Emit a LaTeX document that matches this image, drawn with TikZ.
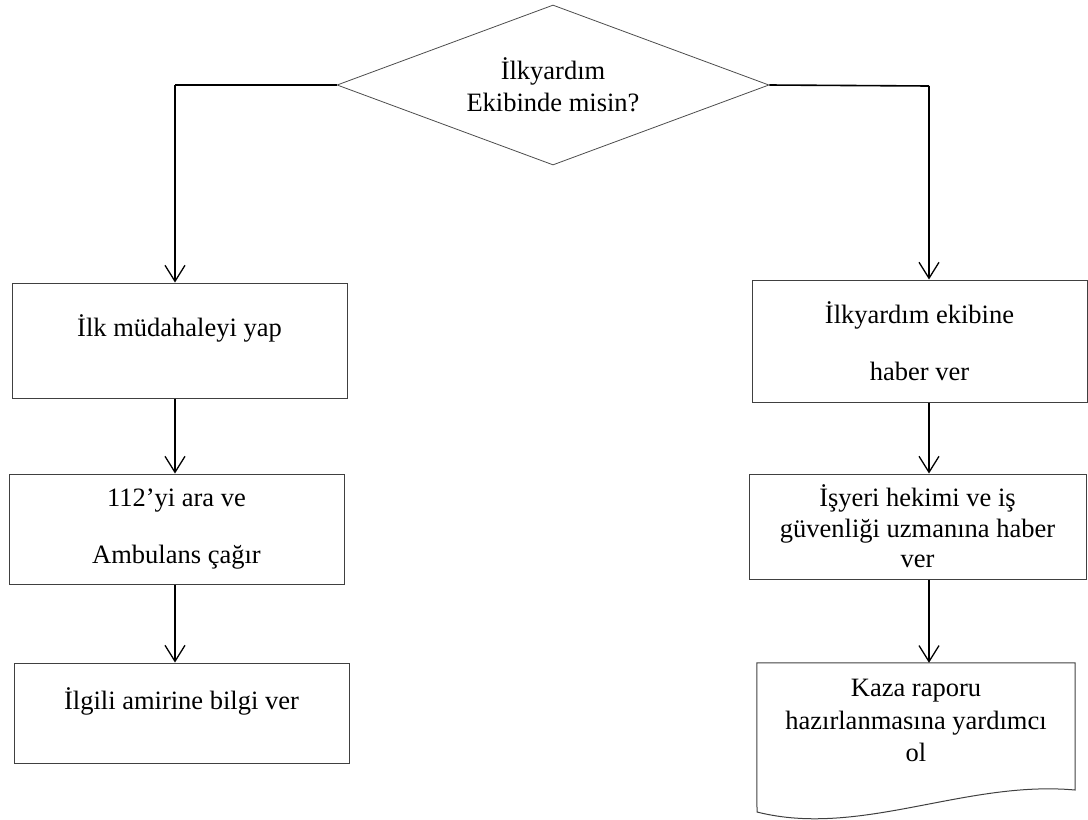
\documentclass[tikz,border=0pt]{standalone}
\usepackage{fontspec}
\setmainfont{Liberation Serif}
\usetikzlibrary{shapes.geometric,arrows.meta}

\begin{document}
\begin{tikzpicture}[x=1pt, y=-1pt,
            every node/.style={font=\fontsize{26.5}{30.5}\selectfont, align=center, inner sep=0pt},
            soru/.style={diamond, aspect=2.7, draw=black!70, line width=0.8pt, minimum width=432pt, minimum height=160pt},
            kutu/.style={rectangle, draw=black!75, line width=1pt, minimum width=335pt},
            hat/.style={line width=1.6pt},
            ok/.style={line width=1.3pt, -{Straight Barb[length=16pt,width=20pt]}}]
            \useasboundingbox (0,0) rectangle (1088,820);

            \node[soru] (q) at (553,85) {İlkyardım\\[1.5pt]Ekibinde misin?};

            \node[kutu, minimum height=115pt, text depth=30pt] (ilk) at (179.5,340.5) {İlk müdahaleyi yap};
            \node[kutu, minimum height=110pt] (ara) at (176.5,529) {112’yi ara ve\\[27pt]Ambulans çağır};
            \node[kutu, minimum height=100pt, text depth=28pt] (amir) at (181.5,713) {İlgili amirine bilgi ver};

            \node[kutu, minimum height=122pt] (ekip) at (919.5,341) {İlkyardım ekibine\\[27pt]haber ver};
            \node[kutu, minimum width=337pt, minimum height=105pt] (isg) at (917.5,526.5) {İşyeri hekimi ve iş\\güvenliği uzmanına haber\\ver};
            \node[minimum width=318pt, minimum height=115pt] (kaza) at (916,720.5) {Kaza raporu\\[2pt]hazırlanmasına yardımcı\\[2pt]ol};

            % belge kenari
            \draw[draw=black!75, line width=1pt] (kaza.north west) -- (kaza.north east) -- (1075,790)
                .. controls (965,780) and (860,838) .. (757,812) -- cycle;

            \coordinate (sol) at (175,85);
            \coordinate (sag) at (929,86);

            \draw[hat] (q.west) -- (sol);
            \draw[hat] (q.east) -- (sag);

            \draw[ok] (sol) -- (sol |- ilk.north);
            \draw[ok] (ilk.south -| sol) -- (ara.north -| sol);
            \draw[ok] (ara.south -| sol) -- (amir.north -| sol);

            \draw[ok] (sag) -- (sag |- ekip.north);
            \draw[ok] (ekip.south -| sag) -- (isg.north -| sag);
            \draw[ok] (isg.south -| sag) -- (kaza.north -| sag);
        \end{tikzpicture}
\end{document}
